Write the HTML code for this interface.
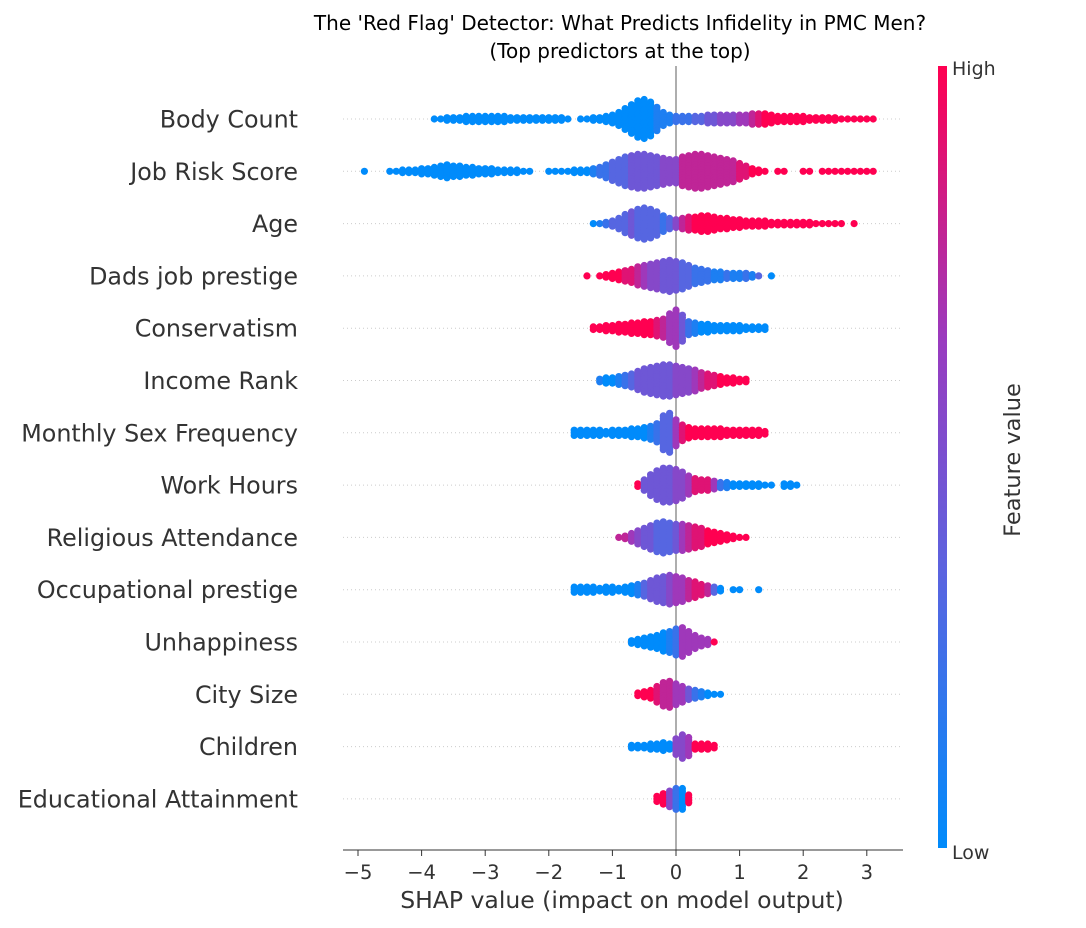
<!DOCTYPE html>
<html><head><meta charset="utf-8"><style>
html,body{margin:0;padding:0;background:#fff;}
svg{display:block;font-family:"DejaVu Sans","Liberation Sans",sans-serif;}
</style></head><body>
<svg id="chart" width="1086" height="928" viewBox="0 0 1086 928" xmlns="http://www.w3.org/2000/svg">
<defs><linearGradient id="cbar" x1="0" y1="1" x2="0" y2="0">
<stop offset="0" stop-color="#008bfb"/><stop offset="0.35" stop-color="#5a64e0"/><stop offset="0.65" stop-color="#9a3bbf"/><stop offset="1" stop-color="#ff0051"/></linearGradient></defs>
<text x="620" y="30" font-size="20" text-anchor="middle" fill="#000">The 'Red Flag' Detector: What Predicts Infidelity in PMC Men?</text>
<text x="620" y="58" font-size="20" text-anchor="middle" fill="#000">(Top predictors at the top)</text>
<g id="grid"></g><g id="dots"></g><g id="axis"></g>
<rect x="938" y="66" width="9" height="782" fill="url(#cbar)"/>
<text x="952" y="75" font-size="19" fill="#333">High</text>
<text x="952" y="859" font-size="19" fill="#333">Low</text>
<text transform="translate(1020,460) rotate(-90)" font-size="22.5" text-anchor="middle" fill="#333">Feature value</text>
<text x="622" y="908" font-size="23.5" text-anchor="middle" fill="#333">SHAP value (impact on model output)</text>
</svg>
<script>
const features = ["Body Count","Job Risk Score","Age","Dads job prestige","Conservatism","Income Rank","Monthly Sex Frequency","Work Hours","Religious Attendance","Occupational prestige","Unhappiness","City Size","Children","Educational Attainment"];
const xTicks = [-5,-4,-3,-2,-1,0,1,2,3];
const binWidth = 0.1;
const binStarts = [-3.8,-4.9,-1.3,-1.4,-1.3,-1.2,-1.6,-0.6,-0.9,-1.6,-0.7,-0.6,-0.7,-0.3];
const binCounts = [
[1,1,2,2,2,3,3,3,3, 3,3,3,2,2,2,2,2,2,2, 2,2,1,0,1,1,2,2,3,4, 6,9,12,15,16,14,10,6,4,3, 3,3,3,3,4,4,4,4,4,4, 4,5,5,5,4,3,3,3,3,3, 2,2,2,2,2,1,1,1,1,1,1],
[1,0,0,0,1,1,2,2,2,3, 3,4,5,6,5,5,4,4,3,3, 3,2,2,2,2,1,1,0,0,1, 1,1,1,2,2,2,3,4,6,8, 10,12,13,14,14,13,12,11,10,10, 12,13,14,14,13,12,11,10,9,7, 5,3,2,1,0,1,1,0,0,1, 1,0,1,1,1,1,1,1,1,1,1],
[1,1,2,3,5,8,10,12,13,12, 10,7,5,4,5,6,6,7,7,6, 5,5,4,4,3,3,3,3,2,2, 2,2,2,2,2,1,1,1,1,1,0,1],
[1,0,1,2,3,4,5,6,8,9, 10,11,12,13,12,11,9,7,6,5, 4,4,3,3,3,3,2,1,0,1],
[2,2,3,3,4,4,5,5,6,6, 7,8,12,15,11,6,5,4,4,3, 3,3,3,3,2,2,2,2],
[2,3,3,4,5,6,8,10,11,12, 13,13,12,11,10,9,7,6,5,4, 3,3,2,2],
[3,3,3,3,3,2,3,3,3,4, 4,5,6,8,14,16,11,7,5,4, 4,4,4,4,3,3,3,3,3,3, 2],
[2,5,9,12,14,14,13,11,8,6, 5,5,4,3,3,2,2,2,2,2, 1,1,0,2,2,1],
[1,2,4,6,8,10,12,13,12,11, 11,10,9,8,6,5,4,3,2,1, 1],
[3,3,3,3,2,3,3,2,3,4, 5,6,8,10,11,12,11,10,8,7, 5,4,3,2,0,1,1,0,0,1],
[2,3,4,5,6,8,9,11,12,9, 6,4,3,1],
[2,3,4,7,10,11,9,7,5,4, 3,2,1,1],
[2,2,2,3,3,4,3,7,10,8, 3,3,3,2],
[3,5,7,9,9,4]
];
const binColors = [
[0,0,0,0,0,0,0,0,0, 0,0,0,0,0,0,0,0,0,0, 0,0,0,0,0,0,0,0,0,0, 0,0,0,0,0,0,1,1,1,2, 2,2,3,3,4,4,5,5,5,6, 6,7,8,9,9,9,9,9,9,9, 9,9,9,9,9,9,9,9,9,9,9],
[0,0,0,0,0,0,0,0,0,0, 0,0,0,0,0,0,0,0,0,0, 0,0,0,0,0,0,0,0,0,0, 0,0,0,0,0,0,1,2,2,3, 3,3,4,4,4,4,4,5,5,5, 7,7,7,7,7,7,7,7,7,8, 8,9,9,9,9,9,9,9,9,9, 9,9,9,9,9,9,9,9,9,9,9],
[0,1,2,3,3,3,4,3,3,3, 3,2,3,5,7,8,9,9,9,9, 9,9,9,9,9,9,9,9,9,9, 9,9,9,9,9,9,9,9,9,9,9,9],
[9,9,9,9,9,9,8,8,7,6, 5,5,4,4,4,3,3,2,2,2, 1,1,2,1,1,2,1,3,0,0],
[9,9,9,9,9,9,9,9,9,9, 8,7,6,6,4,2,1,0,0,0, 0,0,0,0,0,0,0,0],
[1,0,0,1,2,3,4,4,4,4, 4,4,5,5,5,6,7,8,8,9, 9,9,9,9],
[0,0,0,0,0,0,0,0,0,0, 0,0,1,2,3,3,6,8,9,9, 9,9,9,9,9,9,9,9,9,9, 9],
[9,4,4,4,4,4,5,5,6,8, 8,8,6,2,1,0,0,0,0,0, 0,0,0,0,0,0],
[7,7,6,5,4,4,3,3,3,4, 6,7,8,8,9,9,9,9,9,9, 9],
[0,0,0,0,0,0,0,0,0,0, 1,3,4,4,4,5,6,6,7,8, 8,7,3,0,0,0,0,0,0,0],
[0,0,0,0,0,0,1,2,6,6, 6,6,6,9],
[9,9,9,8,7,7,6,6,4,2, 1,0,0,0],
[0,0,0,0,0,0,0,5,5,6, 9,9,9,9],
[9,9,5,2,0,9]
];

const NS = "http://www.w3.org/2000/svg";
const x0 = 676, pxPerUnit = 63.6;
const xScale = v => x0 + v * pxPerUnit;
const rowY0 = 119, rowStep = 52.3;
const yScale = i => rowY0 + i * rowStep;
const stops = [[0,[0,139,251]],[0.35,[90,100,224]],[0.65,[154,59,191]],[1,[255,0,81]]];
function colorFor(c){
  const t = c/9;
  for(let k=1;k<stops.length;k++){
    if(t<=stops[k][0]){
      const a=stops[k-1], b=stops[k], f=(t-a[0])/(b[0]-a[0]);
      const rgb=a[1].map((v,j)=>Math.round(v+(b[1][j]-v)*f));
      return "rgb("+rgb.join(",")+")";
    }
  }
  return "rgb(255,0,81)";
}
function mk(tag, attrs, parent){
  const el=document.createElementNS(NS,tag);
  for(const k in attrs) el.setAttribute(k,attrs[k]);
  parent.appendChild(el); return el;
}
const grid=document.getElementById("grid"), dots=document.getElementById("dots"), axis=document.getElementById("axis");
features.forEach((name,i)=>{
  const y=yScale(i);
  const gl=mk("line",{x1:343,x2:903,y1:y,y2:y,stroke:"#ccc","stroke-width":1,"stroke-dasharray":"1,3"},grid);
  
  
  const lab=mk("text",{x:298,y:y+8.5,"font-size":23.8,"text-anchor":"end",fill:"#333"},axis);
  
  
  lab.textContent=name;
});
const zl=mk("line",{x1:x0,x2:x0,y1:66,y2:850,stroke:"#999","stroke-width":1.6},grid);


binCounts.forEach((counts,i)=>{
  const y=yScale(i);
  const g=mk("g",{},dots);
  
  
  counts.forEach((n,b)=>{
    const cx=xScale(binStarts[i]+b*binWidth);
    const fill=colorFor(binColors[i][b]);
    for(let j=0;j<n;j++){
      const cy=y+(j-(n-1)/2)*2.6;
      const c=mk("circle",{cx:cx.toFixed(1),cy:cy.toFixed(1),r:3.6,fill:fill},g);
      
      
    }
  });
});
const ax=mk("line",{x1:343,x2:903,y1:850,y2:850,stroke:"#333","stroke-width":1},axis);


xTicks.forEach(t=>{
  const x=xScale(t);
  const tk=mk("line",{x1:x,x2:x,y1:850,y2:856,stroke:"#333","stroke-width":1},axis);
  
  
  const tl=mk("text",{x:x,y:879,"font-size":19.5,"text-anchor":"middle",fill:"#333"},axis);
  
  
  tl.textContent=(t<0?"\u2212"+(-t):String(t));
});
</script>
</body></html>
